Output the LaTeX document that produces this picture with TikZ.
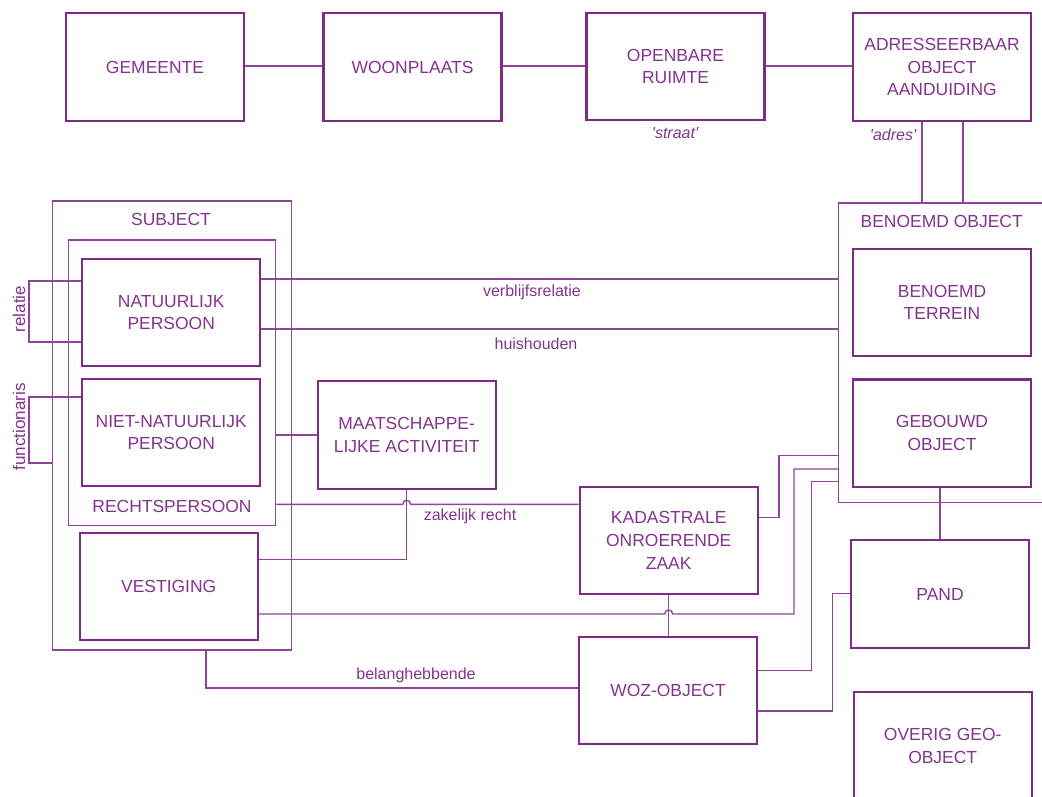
\documentclass[tikz,border=0pt]{standalone}
\usepackage{fontspec}
\setmainfont{Liberation Sans}
\definecolor{plum}{HTML}{7E2A87}
\definecolor{plumtext}{HTML}{84348F}
\definecolor{plumline}{HTML}{8E4499}
\tikzset{
  box/.style={draw=plum, line width=1.6pt, minimum width=133.5pt, minimum height=80.6pt,
    inner sep=0pt, align=center, text=plumtext, font=\fontsize{13.1}{17}\selectfont},
  group/.style={draw=plumline, line width=1.05pt, inner sep=0pt},
  grouptitle/.style={text=plumtext, font=\fontsize{13.1}{17}\selectfont, inner sep=0pt},
  link/.style={draw=plumline, line width=1.05pt},
  linklabel/.style={text=plumtext, font=\fontsize{12}{14}\selectfont, inner sep=0pt},
  namelabel/.style={text=plumtext, font=\itshape\fontsize{12}{14}\selectfont, inner sep=0pt},
  sidelabel/.style={text=plumtext, font=\fontsize{12.8}{15}\selectfont, inner sep=0pt, rotate=90},
}
\begin{document}
\begin{tikzpicture}[x=0.75pt, y=-0.75pt]
\useasboundingbox (0,0) rectangle (1042,796);
\clip (0,0) rectangle (1042,796);

% grouping frames
\node[group, minimum width=179.55pt, minimum height=336.75pt] (subj) at (172,425.5) {};
\node[group, minimum width=155.55pt, minimum height=214.3pt] (rp) at (172,382.9) {};
\node[group, minimum width=173.5pt, minimum height=224.6pt] (bo) at (954.35,352.75) {};
\node[grouptitle] (subjt) at (171,219) {SUBJECT};
\node[grouptitle] (rpt) at (172,506) {RECHTSPERSOON};
\node[grouptitle] (bot) at (941.7,221.7) {BENOEMD OBJECT};

% top row
\node[box] (gem) at (155,67) {GEMEENTE};
\node[box] (woon) at (412.5,67) {WOONPLAATS};
\node[box] (open) at (675.5,66.5) {OPENBARE\\RUIMTE};
\node[box] (adr) at (942,67) {ADRESSEERBAAR\\OBJECT\\AANDUIDING};

% subjects
\node[box] (nat) at (171.2,312.5) {NATUURLIJK\\PERSOON};
\node[box] (nnp) at (171.2,432.5) {NIET-NATUURLIJK\\PERSOON};
\node[box] (vest) at (168.7,586.3) {VESTIGING};
\node[box] (maat) at (406.7,435) {MAATSCHAPPE-\\LIJKE ACTIVITEIT};

% objects
\node[box] (kad) at (668.7,540.5) {KADASTRALE\\ONROERENDE\\ZAAK};
\node[box] (woz) at (668,690.3) {WOZ-OBJECT};
\node[box] (bt) at (942,302.5) {BENOEMD\\TERREIN};
\node[box] (geb) at (942,433.2) {GEBOUWD\\OBJECT};
\node[box] (pand) at (940,594) {PAND};
\node[box] (ovg) at (942.7,746) {OVERIG GEO-\\OBJECT};

% top row links
\draw[link] (gem.east |- 0,66) -- (woon.west |- 0,66);
\draw[link] (woon.east |- 0,66) -- (open.west |- 0,66);
\draw[link] (open.east |- 0,66) -- (adr.west |- 0,66);
\draw[link] (adr.south -| 922,0) -- (bo.north -| 922,0);
\draw[link] (adr.south -| 963,0) -- (bo.north -| 963,0);
\node[namelabel] (straat) at (675,133) {\textquotesingle straat\textquotesingle};
\node[namelabel] (adres) at (893,135) {\textquotesingle adres\textquotesingle};

% person to object links
\draw[link] (nat.east |- 0,279) -- (bo.west |- 0,279);
\node[linklabel] (verbl) at (532,292) {verblijfsrelatie};
\draw[link] (nat.east |- 0,329) -- (bo.west |- 0,329);
\node[linklabel] (huis) at (536,344) {huishouden};

% self relations
\draw[link] (nat.west |- 0,281) -- (29,281) -- (29,342) -- (nat.west |- 0,342);
\node[sidelabel] (rel) at (19,309) {relatie};
\draw[link] (nnp.west |- 0,397) -- (29,397) -- (29,463) -- (subj.west |- 0,463);
\node[sidelabel] (func) at (19,427) {functionaris};

% activity and rights
\draw[link] (rp.east |- maat.west) -- (maat.west);
\draw[link] (rp.east |- 0,504.3) -- (402.7,504.3)
  .. controls (402.7,499) and (410.7,499) .. (410.7,504.3) -- (kad.west |- 0,504.3);
\node[linklabel] (zak) at (470,516) {zakelijk recht};
\draw[link] (maat.south) -- (maat.south |- 0,559.3) -- (vest.east |- 0,559.3);

% vestiging to benoemd object
\draw[link] (vest.east |- 0,614) -- (664.7,614)
  .. controls (664.7,608.7) and (672.7,608.7) .. (672.7,614)
  -- (794,614) -- (794,469) -- (bo.west |- 0,469);

% kadastrale / woz
\draw[link] (kad.south) -- (kad.south |- woz.north);
\draw[link] (kad.east |- 0,517.7) -- (779,517.7) -- (779,455.7) -- (bo.west |- 0,455.7);
\draw[link] (woz.east |- 0,670.7) -- (811.7,670.7) -- (811.7,481.7) -- (bo.west |- 0,481.7);
\draw[link] (woz.east |- 0,711) -- (832.3,711) -- (832.3,593.3) -- (pand.west |- 0,593.3);
\draw[link] (subj.south -| 206,0) -- (206,688) -- (woz.west |- 0,688);
\node[linklabel] (belang) at (416,675) {belanghebbende};

% gebouwd object to pand
\draw[link] (geb.south -| 940,0) -- (pand.north -| 940,0);
\end{tikzpicture}
\end{document}
